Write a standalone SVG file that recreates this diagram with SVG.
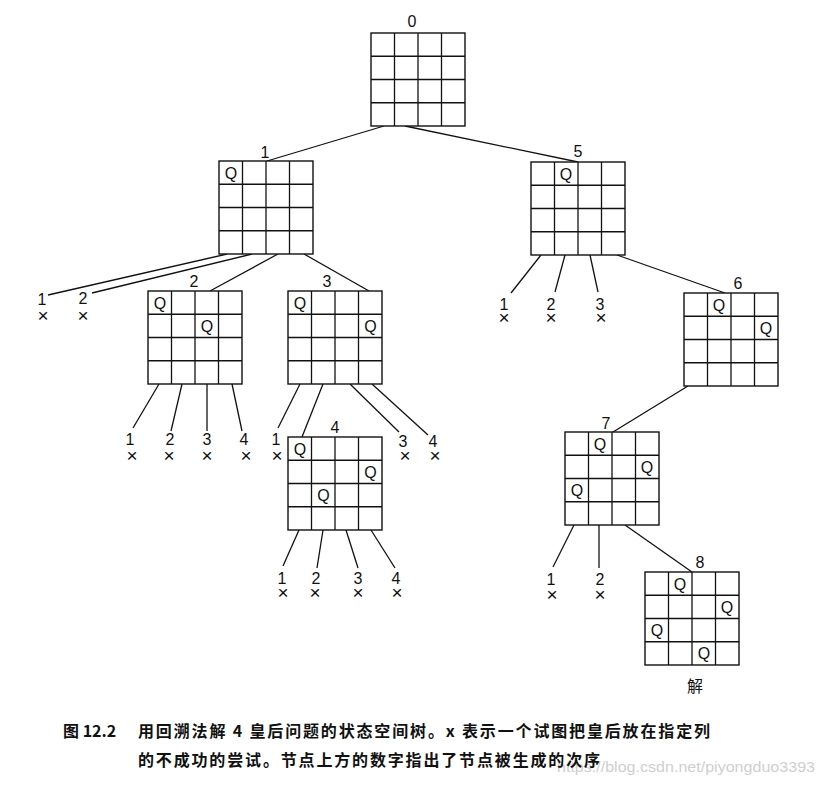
<svg xmlns="http://www.w3.org/2000/svg" xmlns:xlink="http://www.w3.org/1999/xlink" width="825" height="788" viewBox="0 0 825 788">
<style>
.cell{fill:#fff;stroke:#111;stroke-width:1.4}
.gl{stroke:#111;stroke-width:1.3}
.edge{stroke:#111;stroke-width:1.3;fill:none}
.q{font-family:"Liberation Sans",Arial,sans-serif;font-size:16px;fill:#111;text-anchor:middle}
.lbl{font-family:"Liberation Sans",Arial,sans-serif;font-size:16px;fill:#111;text-anchor:middle}
.x{font-size:19px}
.cap{font-family:"Noto Sans CJK SC","Liberation Sans",sans-serif;font-size:16px;font-weight:bold;fill:#111}
.wm{font-family:"Liberation Sans",Arial,sans-serif;font-size:15px;fill:#cfcfcf}
</style>
<defs>
<g id="board">
<rect class="cell" x="0" y="0" width="94" height="93"/>
<line class="gl" x1="23.5" y1="0" x2="23.5" y2="93"/>
<line class="gl" x1="47" y1="0" x2="47" y2="93"/>
<line class="gl" x1="70.5" y1="0" x2="70.5" y2="93"/>
<line class="gl" x1="0" y1="23.25" x2="94" y2="23.25"/>
<line class="gl" x1="0" y1="46.5" x2="94" y2="46.5"/>
<line class="gl" x1="0" y1="69.75" x2="94" y2="69.75"/>
</g>
</defs>
<rect width="825" height="788" fill="#fff"/>

<g id="connectors">
<line class="edge" x1="384" y1="126" x2="267" y2="161"/>
<line class="edge" x1="405" y1="126" x2="578" y2="162"/>
<line class="edge" x1="227" y1="254" x2="48" y2="295"/>
<line class="edge" x1="252" y1="254" x2="92" y2="293"/>
<line class="edge" x1="278" y1="254" x2="210" y2="291"/>
<line class="edge" x1="304" y1="254" x2="369" y2="291"/>
<line class="edge" x1="159" y1="384" x2="133" y2="428"/>
<line class="edge" x1="182" y1="384" x2="171" y2="431"/>
<line class="edge" x1="207" y1="384" x2="207" y2="431"/>
<line class="edge" x1="232" y1="384" x2="242" y2="431"/>
<line class="edge" x1="300" y1="384" x2="278" y2="428"/>
<line class="edge" x1="323" y1="384" x2="302" y2="437"/>
<line class="edge" x1="350" y1="384" x2="399" y2="432"/>
<line class="edge" x1="372" y1="384" x2="428" y2="435"/>
<line class="edge" x1="299" y1="530" x2="283" y2="566"/>
<line class="edge" x1="323" y1="530" x2="317" y2="568"/>
<line class="edge" x1="346" y1="530" x2="358" y2="568"/>
<line class="edge" x1="371" y1="530" x2="395" y2="568"/>
<line class="edge" x1="541" y1="255" x2="511" y2="293"/>
<line class="edge" x1="565" y1="255" x2="555" y2="292"/>
<line class="edge" x1="590" y1="255" x2="598" y2="292"/>
<line class="edge" x1="617" y1="255" x2="725" y2="293"/>
<line class="edge" x1="688" y1="386" x2="613" y2="432"/>
<line class="edge" x1="574" y1="525" x2="553" y2="567"/>
<line class="edge" x1="599" y1="525" x2="599" y2="568"/>
<line class="edge" x1="625" y1="525" x2="692" y2="572"/>
</g>

<g id="node0">
<use xlink:href="#board" x="371" y="33"/>
<text class="lbl" x="412" y="27">0</text>
</g>

<g id="node1">
<use xlink:href="#board" x="219" y="161"/>
<text class="lbl" x="265" y="158">1</text>
<text class="q" x="231" y="178.5">Q</text>
</g>

<g id="node2">
<use xlink:href="#board" x="148" y="291"/>
<text class="lbl" x="194" y="287">2</text>
<text class="q" x="160" y="308.5">Q</text>
<text class="q" x="207" y="331.5">Q</text>
</g>

<g id="node3">
<use xlink:href="#board" x="288" y="291"/>
<text class="lbl" x="327" y="287">3</text>
<text class="q" x="300" y="308.5">Q</text>
<text class="q" x="370.5" y="331.5">Q</text>
</g>

<g id="node4">
<use xlink:href="#board" x="288" y="437"/>
<text class="lbl" x="335" y="433">4</text>
<text class="q" x="300" y="454.5">Q</text>
<text class="q" x="370.5" y="477.5">Q</text>
<text class="q" x="323.5" y="501">Q</text>
</g>

<g id="node5">
<use xlink:href="#board" x="531" y="162"/>
<text class="lbl" x="578" y="157">5</text>
<text class="q" x="566" y="179.5">Q</text>
</g>

<g id="node6">
<use xlink:href="#board" x="684" y="293"/>
<text class="lbl" x="738" y="289">6</text>
<text class="q" x="719" y="310.5">Q</text>
<text class="q" x="766" y="333.5">Q</text>
</g>

<g id="node7">
<use xlink:href="#board" x="565" y="432"/>
<text class="lbl" x="606" y="429">7</text>
<text class="q" x="600" y="449.5">Q</text>
<text class="q" x="647" y="472.5">Q</text>
<text class="q" x="577" y="496">Q</text>
</g>

<g id="node8">
<use xlink:href="#board" x="645" y="572"/>
<text class="lbl" x="700" y="568">8</text>
<text class="q" x="680" y="589.5">Q</text>
<text class="q" x="727" y="612.5">Q</text>
<text class="q" x="657" y="636">Q</text>
<text class="q" x="704" y="659">Q</text>
<text class="cap" x="695" y="692" text-anchor="middle" style="font-weight:normal">解</text>
</g>

<g id="leaves">
<text class="lbl"><tspan x="42" y="305">1</tspan><tspan class="x" x="43" y="322">×</tspan></text>
<text class="lbl"><tspan x="83" y="304">2</tspan><tspan class="x" x="83" y="322">×</tspan></text>
<text class="lbl"><tspan x="130" y="445">1</tspan><tspan class="x" x="132" y="462">×</tspan></text>
<text class="lbl"><tspan x="170" y="445">2</tspan><tspan class="x" x="169" y="462">×</tspan></text>
<text class="lbl"><tspan x="207" y="445">3</tspan><tspan class="x" x="207" y="462">×</tspan></text>
<text class="lbl"><tspan x="244" y="445">4</tspan><tspan class="x" x="246" y="462">×</tspan></text>
<text class="lbl"><tspan x="276" y="445">1</tspan><tspan class="x" x="277" y="462">×</tspan></text>
<text class="lbl"><tspan x="403" y="447">3</tspan><tspan class="x" x="405" y="462">×</tspan></text>
<text class="lbl"><tspan x="433" y="447">4</tspan><tspan class="x" x="435" y="462">×</tspan></text>
<text class="lbl"><tspan x="282" y="584">1</tspan><tspan class="x" x="283" y="599">×</tspan></text>
<text class="lbl"><tspan x="316" y="584">2</tspan><tspan class="x" x="315" y="599">×</tspan></text>
<text class="lbl"><tspan x="358" y="584">3</tspan><tspan class="x" x="358" y="599">×</tspan></text>
<text class="lbl"><tspan x="396" y="584">4</tspan><tspan class="x" x="397" y="599">×</tspan></text>
<text class="lbl"><tspan x="504" y="310">1</tspan><tspan class="x" x="504" y="324">×</tspan></text>
<text class="lbl"><tspan x="551" y="310">2</tspan><tspan class="x" x="551" y="324">×</tspan></text>
<text class="lbl"><tspan x="600" y="310">3</tspan><tspan class="x" x="601" y="324">×</tspan></text>
<text class="lbl"><tspan x="551" y="585">1</tspan><tspan class="x" x="552" y="601">×</tspan></text>
<text class="lbl"><tspan x="600" y="585">2</tspan><tspan class="x" x="600" y="601">×</tspan></text>
</g>

<g id="caption">
<text class="wm" x="557" y="772" textLength="258" lengthAdjust="spacingAndGlyphs">https://blog.csdn.net/piyongduo3393</text>
<text class="cap" x="63" y="737">图 12.2</text>
<text class="cap" x="138" y="737" textLength="572" lengthAdjust="spacing">用回溯法解 4 皇后问题的状态空间树。x 表示一个试图把皇后放在指定列</text>
<text class="cap" x="138" y="766" textLength="462" lengthAdjust="spacing">的不成功的尝试。节点上方的数字指出了节点被生成的次序</text>
</g>
</svg>
